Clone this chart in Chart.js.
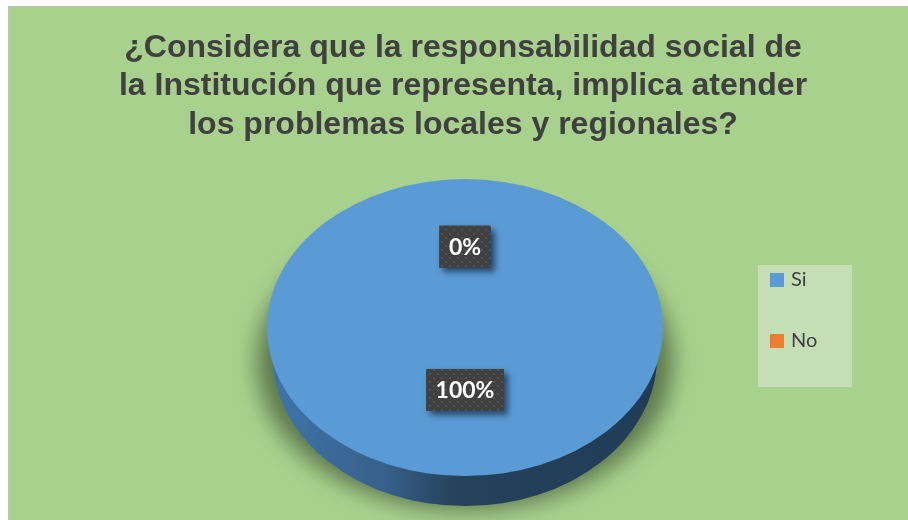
<!DOCTYPE html>
<html>
<head>
<meta charset="utf-8">
<style>
  html, body { margin: 0; padding: 0; background: #fff; }
  canvas { display: block; }
</style>
<script src="https://cdn.jsdelivr.net/npm/chart.js@4"></script>
</head>
<body>
<canvas id="pieChart" width="908" height="520"></canvas>
<script>
const categories = ['Si', 'No'];
const values = [100, 0];
const sliceColors = ['#5b9bd5', '#ed7d31'];
const titleLines = [
    '¿Considera que la responsabilidad social de',
    'la Institución que representa, implica atender',
    'los problemas locales y regionales?'
];

// the pie is a flattened disc: Chart.js draws a circle and we squash it
const SQUASH = 0.75;
const DEPTH = 29;
// where along the radius each percentage box sits
const LABEL_RADIUS = [0.42, 0.545];

function dotPattern(ctx) {
    const tile = document.createElement('canvas');
    tile.width = 8;
    tile.height = 8;
    const t = tile.getContext('2d');
    t.fillStyle = '#404040';
    t.fillRect(0, 0, 8, 8);
    t.fillStyle = '#515151';
    t.fillRect(1, 1, 2, 2);
    t.fillRect(5, 5, 2, 2);
    return ctx.createPattern(tile, 'repeat');
}

const discPlugin = {
    id: 'disc',
    beforeDraw(chart) {
        const ctx = chart.ctx;
        ctx.save();
        ctx.fillStyle = '#a9d18e';
        ctx.fillRect(8, 6, 900, 514);
        ctx.fillStyle = '#bfbfbf';
        ctx.fillRect(8, 6, 900, 1);
        ctx.fillRect(8, 6, 1, 514);
        // legend backing
        ctx.fillStyle = '#c5deb5';
        ctx.fillRect(758, 265, 94, 122);
        ctx.restore();
    },
    afterLayout(chart) {
        // legend sits on its own panel, away from the pie
        const legend = chart.legend;
        legend.left = 732;
        legend.right = 852;
        legend.top = 229;
        legend.bottom = 520;
        // title is centred a touch left of the pie
        chart.titleBlock.left -= 2;
        chart.titleBlock.right -= 2;
    },
    beforeDatasetsDraw(chart) {
        const ctx = chart.ctx;
        const arc = chart.getDatasetMeta(0).data[0];
        const cx = arc.x, cy = arc.y, rx = arc.outerRadius, ry = rx * SQUASH;

        // soft ground shadow, shape is kept off canvas so only the blur lands
        ctx.save();
        ctx.beginPath();
        ctx.rect(9, 7, 899, 513);
        ctx.clip();
        ctx.shadowColor = 'rgba(45,65,35,0.62)';
        ctx.shadowBlur = 22;
        ctx.shadowOffsetX = 2000;
        ctx.fillStyle = '#000';
        ctx.beginPath();
        ctx.ellipse(cx - 2000, cy + DEPTH + 5, rx * 1.05, ry, 0, 0, Math.PI * 2);
        ctx.fill();
        ctx.restore();

        // side wall
        const wall = ctx.createLinearGradient(cx - rx, 0, cx + rx, 0);
        wall.addColorStop(0, '#3f75aa');
        wall.addColorStop(0.3, '#37608a');
        wall.addColorStop(0.4, '#2c4f70');
        wall.addColorStop(0.48, '#25425c');
        wall.addColorStop(1, '#203c56');
        ctx.save();
        ctx.fillStyle = wall;
        ctx.beginPath();
        ctx.ellipse(cx, cy + DEPTH, rx * 0.97, ry + 1, 0, 0, Math.PI * 2);
        ctx.fill();
        ctx.restore();

        ctx.save();
        ctx.translate(cx, cy);
        ctx.scale(1, SQUASH);
        ctx.translate(-cx, -cy);
    },
    afterDatasetsDraw(chart) {
        const ctx = chart.ctx;
        ctx.restore();

        const arcs = chart.getDatasetMeta(0).data;
        const total = values.reduce((a, b) => a + b, 0);
        ctx.save();
        ctx.font = 'bold 23px Lato';
        ctx.textAlign = 'center';
        ctx.textBaseline = 'middle';
        values.forEach((v, i) => {
            const text = Math.round(v / total * 100) + '%';
            const arc = arcs[i];
            // 100% goes below centre, the empty slice above it
            const dir = v > 0 ? 1 : -1;
            const x = arc.x;
            const y = arc.y + dir * LABEL_RADIUS[i] * arc.outerRadius * SQUASH;
            const w = ctx.measureText(text).width + 19;
            const h = 42;
            ctx.save();
            ctx.shadowColor = 'rgba(20,45,75,0.75)';
            ctx.shadowBlur = 6;
            ctx.shadowOffsetX = 4;
            ctx.shadowOffsetY = 4;
            ctx.fillStyle = '#404040';
            ctx.fillRect(x - w / 2, y - h / 2, w, h);
            ctx.restore();
            ctx.fillStyle = dotPattern(ctx);
            ctx.fillRect(x - w / 2, y - h / 2, w, h);
            ctx.fillStyle = '#ffffff';
            ctx.fillText(text, x, y + 1);
        });
        ctx.restore();
    }
};

new Chart(document.getElementById('pieChart'), {
    type: 'pie',
    data: {
        labels: categories,
        datasets: [{
            data: values,
            backgroundColor: sliceColors,
            borderWidth: 0,
            radius: 198,
            clip: false
        }]
    },
    options: {
        responsive: false,
        animation: false,
        layout: { padding: { left: 22, right: 0, top: 29, bottom: 9 } },
        plugins: {
            title: {
                display: true,
                text: titleLines,
                color: '#404040',
                font: { family: 'Liberation Sans', size: 32, weight: 'bold', lineHeight: 1.2 },
                padding: { top: 0, bottom: 0 }
            },
            legend: {
                position: 'chartArea',
                align: 'start',
                labels: {
                    color: '#404040',
                    font: { family: 'Lato', size: 20 },
                    boxWidth: 8,
                    boxHeight: 8,
                    padding: 41,
                    generateLabels(chart) {
                        const items = Chart.overrides.pie.plugins.legend.labels.generateLabels(chart);
                        items.forEach(item => {
                            // thick stroke so the swatch hugs the label text
                            item.lineWidth = 6;
                            item.strokeStyle = item.fillStyle;
                        });
                        return items;
                    }
                }
            },
            tooltip: { enabled: false }
        }
    },
    plugins: [discPlugin]
});
</script>
</body>
</html>
